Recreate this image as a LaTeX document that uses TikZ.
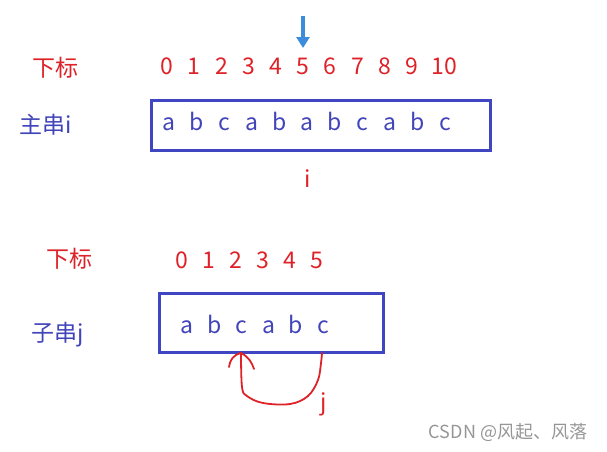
\documentclass[tikz,border=0pt]{standalone}
\usepackage{fontspec}
\setmainfont{Noto Sans CJK SC}
\usetikzlibrary{arrows.meta}
\definecolor{myred}{RGB}{222,34,40}
\definecolor{myblue}{RGB}{66,68,186}
\definecolor{boxblue}{RGB}{64,70,194}
\definecolor{arrowblue}{RGB}{60,140,220}
\definecolor{wmgray}{RGB}{150,150,150}
\tikzset{
  lbl/.style={inner sep=0pt, font=\fontsize{23}{27}\selectfont},
  redtxt/.style={lbl, text=myred, anchor=base},
  bluetxt/.style={lbl, text=myblue, anchor=base},
  strbox/.style={draw=boxblue, line width=3pt},
  redline/.style={draw=myred, line width=1.8pt, line cap=round, line join=round},
}
\begin{document}
\begin{tikzpicture}[x=1pt,y=-1pt]
\useasboundingbox (0,0) rectangle (607,451);
% top arrow
\coordinate (arrS) at (303,16);
\coordinate (arrE) at (303,48);
\draw[arrowblue, line width=3.2pt, -{Triangle[width=13pt,length=11pt]}] (arrS) -- (arrE);
% top labels
\node[lbl, text=myred] (xb1) at (55,68) {下标};
\node[lbl, text=myblue] (zc) at (46,125) {主串i};
\foreach \d [count=\k from 0] in {0,1,2,3,4,5,6,7,8,9} {
  \node[redtxt] (td\k) at ({167+27.2*\k},74) {\d};
}
\node[redtxt] (td10) at (444,74) {10};
% top box
\draw[strbox] (151,100) rectangle (490,150);
\foreach \c [count=\k from 0] in {a,b,c,a,b,a,b,c,a,b,c} {
  \node[bluetxt] (tl\k) at ({169+27.6*\k},130) {\c};
}
\node[redtxt] (ii) at (308,187) {i};
% bottom labels
\node[lbl, text=myred] (xb2) at (69,259) {下标};
\node[lbl, text=myblue] (zj) at (58,335) {子串j};
\foreach \d [count=\k from 0] in {0,1,2,3,4,5} {
  \node[redtxt] (bd\k) at ({182+27*\k},268) {\d};
}
\draw[strbox] (159,293) rectangle (383,352);
\foreach \c [count=\k from 0] in {a,b,c,a,b,c} {
  \node[bluetxt] (bl\k) at ({187+27.2*\k},333) {\c};
}
\node[redtxt] (jj) at (324,410) {j};
% red curve
\coordinate (j5) at (322,353);
\coordinate (j2) at (241,353);
\draw[redline] plot[smooth, tension=0.6] coordinates {(j5) (321,363) (318,380) (308,396) (290,404) (263,403) (247,396) (242,387) (j2)};
\draw[redline] (j2) .. controls (233,355) and (230,360) .. (229,367);
\draw[redline] (j2) .. controls (249,357) and (252,363) .. (254,369);
% watermark
\node[inner sep=0pt, text=wmgray, font=\fontsize{18}{21}\selectfont] (wm) at (508,432) {CSDN @风起、风落};
\end{tikzpicture}
\end{document}
